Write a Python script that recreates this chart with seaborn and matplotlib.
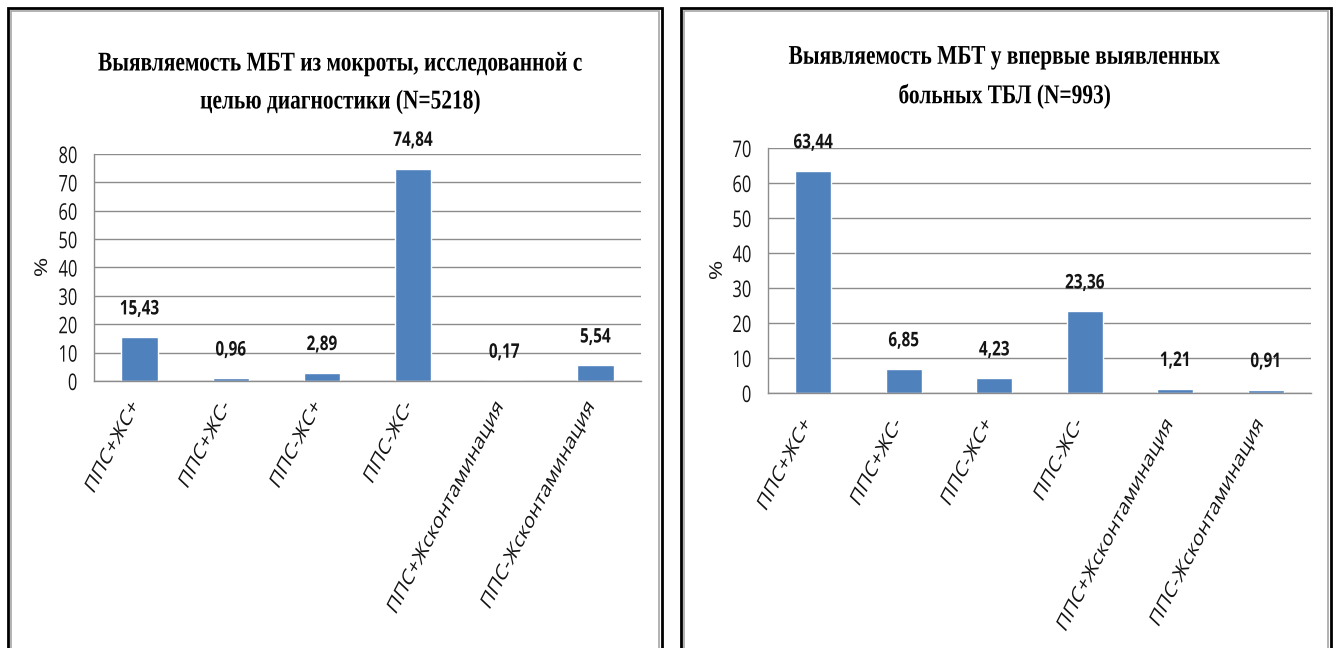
import matplotlib
matplotlib.use("Agg")
import matplotlib.pyplot as plt
import seaborn as sns
import pandas as pd
from matplotlib.patheffects import AbstractPathEffect
from matplotlib.transforms import Affine2D, Bbox, ScaledTranslation
from matplotlib.patches import Rectangle

# ---- data -----------------------------------------------------------------
categories = ["ППС+ЖС+", "ППС+ЖС-", "ППС-ЖС+", "ППС-ЖС-",
              "ППС+Жсконтаминация", "ППС-Жсконтаминация"]
diag_values = [15.43, 0.96, 2.89, 74.84, 0.17, 5.54]
new_values = [63.44, 6.85, 4.23, 23.36, 1.21, 0.91]
diag_ticks = [0, 10, 20, 30, 40, 50, 60, 70, 80]
new_ticks = [0, 10, 20, 30, 40, 50, 60, 70]
diag_title = "Выявляемость МБТ из мокроты, исследованной с\nцелью диагностики (N=5218)"
new_title = "Выявляемость МБТ у впервые выявленных\nбольных ТБЛ (N=993)"
y_label = "%"

# ---- style ----------------------------------------------------------------
BAR = "#4F81BD"
GRID = "#8C8C8C"
INK = "#141414"
SANS = ["Open Sans", "DejaVu Sans"]
SERIF = ["Liberation Serif", "DejaVu Serif"]
W, H = 1341, 648

sns.set_style("white")
plt.rcParams["font.family"] = SANS


class Condense(AbstractPathEffect):
    """Draw glyphs narrowed horizontally around the text anchor."""

    def __init__(self, sx):
        super().__init__()
        self.sx = sx
        self.text = None

    def anchor_x(self):
        return self.text.get_transform().transform(
            self.text.get_unitless_position())[0]

    def draw_path(self, renderer, gc, tpath, affine, rgbFace=None):
        x0 = self.anchor_x()
        narrow = Affine2D().translate(-x0, 0).scale(self.sx, 1).translate(x0, 0)
        renderer.draw_path(gc, tpath, affine + narrow, rgbFace)


def condense(text, sx):
    """Narrow a text's glyphs; its reported extent is narrowed to match."""
    pe = Condense(sx)
    pe.text = text
    text.set_path_effects([pe])
    full_extent = text.get_window_extent

    def extent(renderer=None, dpi=None):
        bb = full_extent(renderer, dpi)
        x0 = pe.anchor_x()
        return Bbox([[x0 + (bb.x0 - x0) * sx, bb.y0],
                     [x0 + (bb.x1 - x0) * sx, bb.y1]])

    text.get_window_extent = extent
    return text


fig = plt.figure(figsize=(W / 100, H / 100), dpi=100)
fig.patch.set_facecolor("white")


def px_rect(x0, y0, x1, y1):
    """Axes rectangle from pixel edges measured from the top-left."""
    return [x0 / W, 1 - y1 / H, (x1 - x0) / W, (y1 - y0) / H]


def panel_frame(x0, x1):
    outer = Rectangle((x0 / W, -0.05), (x1 - x0) / W, (H - 8) / H + 0.05,
                      transform=fig.transFigure, fill=False,
                      edgecolor="black", linewidth=2.0, zorder=10)
    inner = Rectangle(((x0 + 3) / W, -0.05), (x1 - x0 - 6) / W,
                      (H - 11) / H + 0.05, transform=fig.transFigure,
                      fill=False, edgecolor="#A6A6A6", linewidth=1.2, zorder=10)
    fig.add_artist(outer)
    fig.add_artist(inner)


def draw_panel(rect, values, ticks, title, title_pos, title_ha,
               xpad, xshift, ylab_x):
    ax = fig.add_axes(rect)
    df = pd.DataFrame({"category": categories, "value": values})
    sns.barplot(data=df, x="category", y="value", color=BAR, width=0.4,
                saturation=1, ax=ax)
    ax.set_xlim(-0.5, len(categories) - 0.5)
    ax.set_ylim(ticks[0], ticks[-1])
    ax.set_yticks(ticks)
    ax.set_yticklabels([str(t) for t in ticks])
    ax.set_axisbelow(True)
    ax.yaxis.grid(True, color=GRID, linewidth=1.0)
    ax.xaxis.grid(False)
    for side in ("top", "right"):
        ax.spines[side].set_visible(False)
    for side in ("left", "bottom"):
        ax.spines[side].set_color(GRID)
        ax.spines[side].set_linewidth(1.0)
    ax.tick_params(axis="y", length=0, pad=12, labelsize=16.5, colors=INK)
    ax.tick_params(axis="x", length=0, pad=xpad, labelsize=16.5, colors=INK)
    ax.set_xlabel("")
    ax.set_ylabel(y_label, fontsize=17, color=INK)
    ax.yaxis.set_label_coords(ylab_x, 0.5)
    condense(ax.yaxis.label, 0.74)

    for lab in ax.get_yticklabels():
        condense(lab, 0.72)
    shift = ScaledTranslation(xshift / 72, 0, fig.dpi_scale_trans)
    for lab in ax.get_xticklabels():
        lab.set_rotation(55)
        lab.set_rotation_mode("anchor")
        lab.set_ha("right")
        lab.set_va("center")
        lab.set_transform(lab.get_transform() + shift)
        condense(lab, 0.74)

    for i, v in enumerate(values):
        t = ax.annotate(f"{v:.2f}".replace(".", ","), xy=(i, v),
                        xytext=(0, 20), textcoords="offset points",
                        ha="center", va="center", fontsize=14.5,
                        fontweight="bold", color=INK)
        condense(t, 0.76)

    t = fig.text(title_pos[0] / W, 1 - title_pos[1] / H, title,
                 ha=title_ha, va="center", multialignment="center",
                 fontsize=19.5, fontweight="bold", family=SERIF,
                 linespacing=1.68, color="black")
    condense(t, 0.79)
    return ax


panel_frame(8, 662)
panel_frame(681, 1331)

draw_panel(px_rect(94, 154, 641, 381), diag_values, diag_ticks, diag_title,
           (98, 83), "left", xpad=16, xshift=-3, ylab_x=-0.078)
draw_panel(px_rect(768, 148, 1311, 393), new_values, new_ticks, new_title,
           (1005, 77), "center", xpad=20, xshift=-4, ylab_x=-0.077)

fig.savefig("out.png", dpi=100, facecolor="white")
